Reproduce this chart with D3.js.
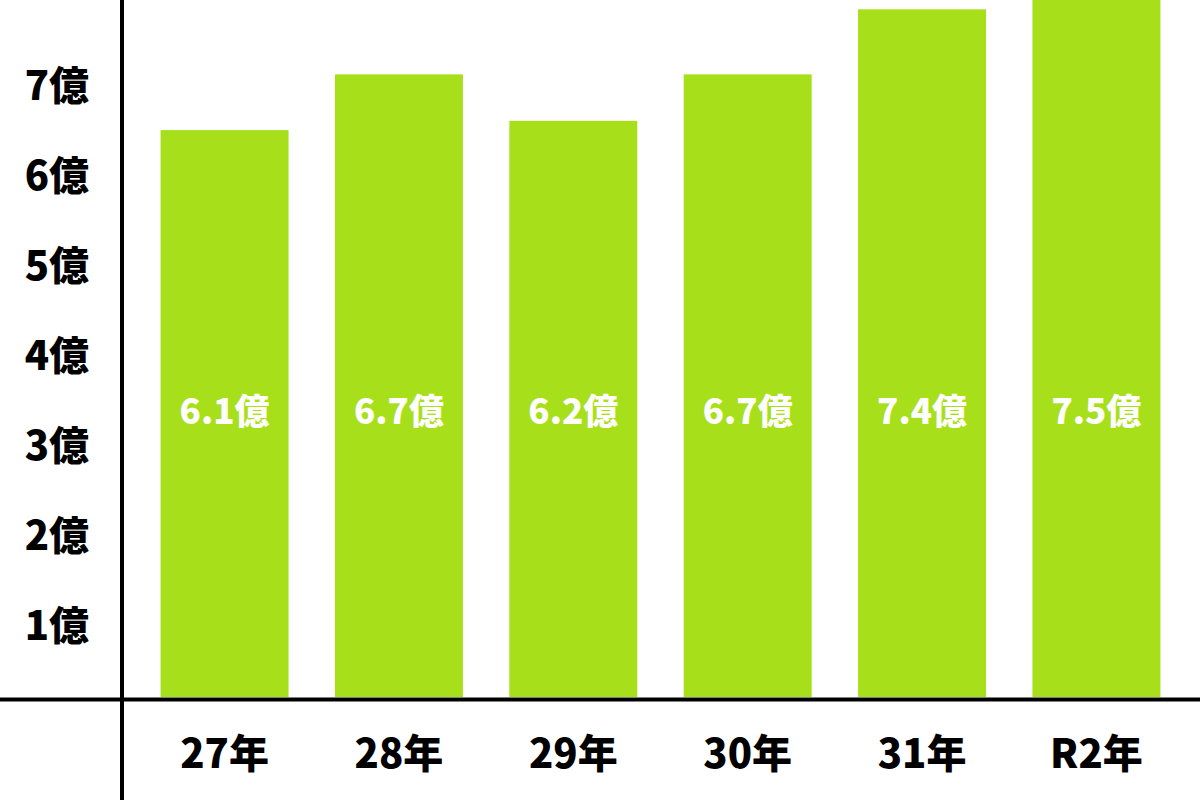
<!DOCTYPE html>
<html><head><meta charset="utf-8">
<script src="https://cdn.jsdelivr.net/npm/d3@7"></script>
<style>html,body{margin:0;padding:0;background:#fff;}svg{display:block;}</style>
</head><body>
<svg id="c" width="1200" height="800"></svg>
<script>
const categories = ["27年","28年","29年","30年","31年","R2年"];
const values = [6.1, 6.7, 6.2, 6.7, 7.4, 7.5];
const valueLabels = ["6.1億","6.7億","6.2億","6.7億","7.4億","7.5億"];
const tickValues = [1,2,3,4,5,6,7];
const tickLabels = ["1億","2億","3億","4億","5億","6億","7億"];

const W = 1200, H = 800;
const baseY = 697, axisY = 699.5, axisX = 122;
const svg = d3.select("#c");
const font = "'Noto Sans CJK JP','Noto Sans',sans-serif";

const x = d3.scaleBand().domain(categories).range([121, 1200]).paddingInner(0.266).paddingOuter(0.227);
const y = d3.scaleLinear().domain([0, 7.5]).range([baseY, 0]);
const yTick = d3.scaleLinear().domain([0, 7]).range([713, 82.5]);

svg.selectAll("rect.bar").data(values).join("rect")
  .attr("class","bar")
  .attr("x",(d,i)=>x(categories[i]))
  .attr("width",x.bandwidth())
  .attr("y",d=>y(d))
  .attr("height",d=>baseY-y(d))
  .attr("fill","#a7e01a");

svg.selectAll("text.vl").data(values).join("text")
  .attr("class","vl")
  .attr("x",(d,i)=>x(categories[i])+x.bandwidth()/2)
  .attr("y",408)
  .attr("text-anchor","middle")
  .attr("dominant-baseline","central")
  .attr("fill","#fff")
  .style("font-family",font).style("font-weight","900").style("font-size","35px")
  .text((d,i)=>valueLabels[i]);

svg.selectAll("text.yl").data(tickValues).join("text")
  .attr("class","yl")
  .attr("x",89)
  .attr("y",d=>yTick(d))
  .attr("text-anchor","end")
  .attr("dominant-baseline","central")
  .attr("fill","#000")
  .style("font-family",font).style("font-weight","900").style("font-size","40px")
  .text((d,i)=>tickLabels[i]);

svg.selectAll("text.xl").data(categories).join("text")
  .attr("class","xl")
  .attr("x",d=>x(d)+x.bandwidth()/2)
  .attr("y",751)
  .attr("text-anchor","middle")
  .attr("dominant-baseline","central")
  .attr("fill","#000")
  .style("font-family",font).style("font-weight","900").style("font-size","40px")
  .text(d=>d);

svg.append("line").attr("x1",0).attr("x2",W).attr("y1",axisY).attr("y2",axisY)
  .attr("stroke","#000").attr("stroke-width",4);
svg.append("line").attr("x1",axisX).attr("x2",axisX).attr("y1",0).attr("y2",H)
  .attr("stroke","#000").attr("stroke-width",4);
</script>
</body></html>
